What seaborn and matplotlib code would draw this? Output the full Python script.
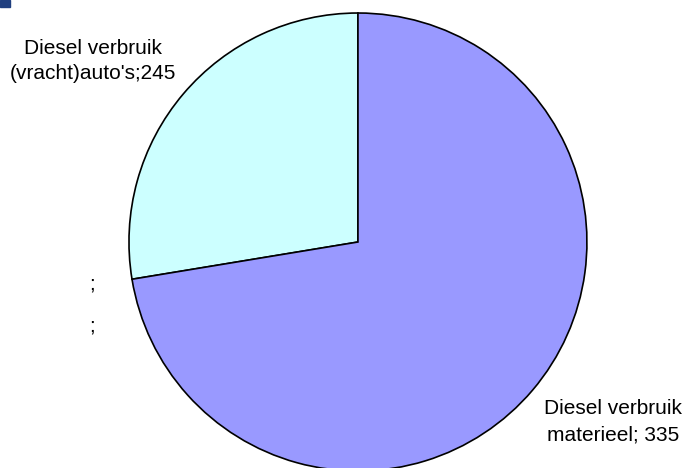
import matplotlib
matplotlib.use("Agg")
import matplotlib.pyplot as plt
import matplotlib.patches as mpatches
import seaborn as sns

# slice shares as drawn in the picture (percent of the circle)
categories = ["Diesel verbruik\n(vracht)auto's", "Diesel verbruik\nmaterieel"]
shares = [27.6, 72.4]
label_values = ["245", " 335"]
slice_colors = ["#CCFFFF", "#9999FF"]

sns.set_style("white")
plt.rcParams['font.family'] = ['Liberation Sans', 'DejaVu Sans']
plt.rcParams['text.color'] = 'black'

fig = plt.figure(figsize=(6.86, 4.68), dpi=100)
ax = fig.add_axes([0.188, -0.0064, 0.6676, 0.9786])

wedges, _ = ax.pie(shares, colors=slice_colors, startangle=90, counterclock=True,
                   wedgeprops=dict(edgecolor="black", linewidth=1.2))
ax.set_xlim(-1, 1)
ax.set_ylim(-1, 1)
ax.set_aspect("equal")
ax.axis("off")

# data labels
ax.text(-1.159, 0.79, categories[0] + ";" + label_values[0], ha="center", va="center",
        fontsize=15, linespacing=1.45, color="black")
ax.text(1.114, -0.785, categories[1] + ";" + label_values[1], ha="center", va="center",
        fontsize=15, linespacing=1.45, color="black")
# empty category labels
for y in [-0.185, -0.365]:
    ax.text(-1.16, y, ";", ha="center", va="center", fontsize=15, color="black")

# small corner marker
fig.patches.append(mpatches.Rectangle((0, 1 - 7 / 468), 10 / 686, 7 / 468,
                                      transform=fig.transFigure, color="#1F3F7F"))

fig.savefig("out.png", dpi=100)
